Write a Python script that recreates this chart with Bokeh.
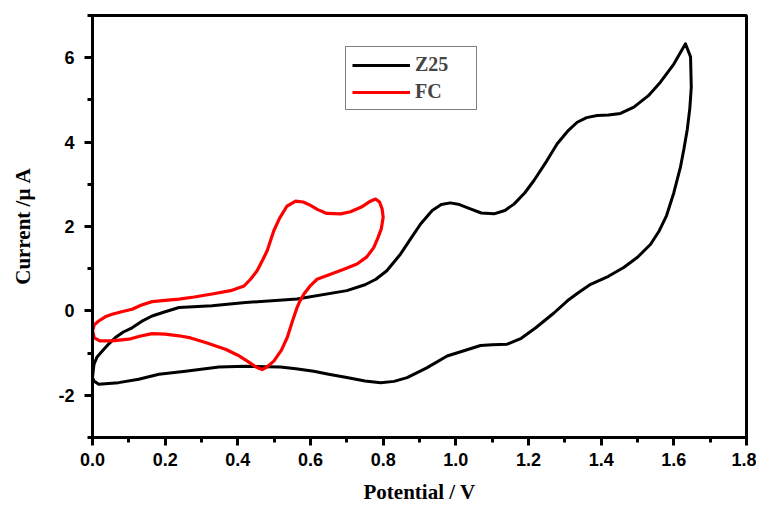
from bokeh.plotting import figure
from bokeh.models import Range1d, SingleIntervalTicker, FixedTicker, Legend, LegendItem, PrintfTickFormatter
from bokeh.embed import file_html
from bokeh.resources import INLINE

# Z25 cyclic voltammogram (potential V, current uA)
z25_x = [0.0, 0.002, 0.004, 0.012, 0.027, 0.045, 0.063, 0.085, 0.109, 0.135, 0.164, 0.20,
         0.238, 0.329, 0.421, 0.563, 0.70, 0.75, 0.78, 0.81, 0.848, 0.875, 0.903, 0.935,
         0.96, 0.985, 1.01, 1.04, 1.07, 1.105, 1.135, 1.16, 1.19, 1.215, 1.25, 1.279,
         1.31, 1.334, 1.36, 1.389, 1.42, 1.453, 1.49, 1.53, 1.563, 1.60, 1.632, 1.646,
         1.648, 1.644, 1.637, 1.628, 1.618, 1.60, 1.58, 1.56, 1.536, 1.50, 1.462, 1.42,
         1.371, 1.335, 1.307, 1.27, 1.22, 1.18, 1.141, 1.10, 1.068, 1.02, 0.976, 0.92,
         0.866, 0.83, 0.793, 0.75, 0.70, 0.65, 0.609, 0.56, 0.517, 0.421, 0.348, 0.256,
         0.183, 0.127, 0.072, 0.017, 0.004, 0.0]
z25_y = [-1.58, -1.42, -1.27, -1.10, -0.95, -0.78, -0.63, -0.50, -0.40, -0.25, -0.12, -0.02,
         0.08, 0.12, 0.20, 0.28, 0.48, 0.62, 0.75, 0.95, 1.35, 1.70, 2.06, 2.38,
         2.52, 2.56, 2.52, 2.42, 2.32, 2.30, 2.38, 2.53, 2.80, 3.09, 3.55, 3.96,
         4.28, 4.47, 4.58, 4.63, 4.64, 4.68, 4.83, 5.10, 5.42, 5.85, 6.33, 6.02,
         5.30, 4.80, 4.30, 3.85, 3.40, 2.80, 2.26, 1.90, 1.58, 1.27, 1.03, 0.82,
         0.63, 0.42, 0.24, -0.05, -0.40, -0.65, -0.79, -0.80, -0.82, -0.95, -1.07, -1.35,
         -1.58, -1.67, -1.70, -1.66, -1.58, -1.50, -1.43, -1.37, -1.33, -1.31, -1.33, -1.43,
         -1.50, -1.62, -1.70, -1.74, -1.66, -1.58]

# FC cyclic voltammogram
fc_x = [0.0, 0.005, 0.017, 0.035, 0.054, 0.08, 0.109, 0.135, 0.164, 0.20, 0.238, 0.28,
        0.329, 0.38, 0.417, 0.435, 0.453, 0.468, 0.481, 0.499, 0.515, 0.535, 0.559, 0.58,
        0.60, 0.62, 0.645, 0.683, 0.71, 0.74, 0.765, 0.779, 0.79, 0.797, 0.80, 0.795,
        0.785, 0.774, 0.755, 0.728, 0.69, 0.655, 0.618, 0.60, 0.582, 0.57, 0.563, 0.55,
        0.536, 0.52, 0.499, 0.48, 0.467, 0.45, 0.426, 0.40, 0.366, 0.311, 0.27, 0.238,
        0.20, 0.164, 0.13, 0.10, 0.054, 0.02, 0.005, 0.0]
fc_y = [-0.47, -0.33, -0.24, -0.14, -0.08, -0.02, 0.04, 0.14, 0.22, 0.25, 0.28, 0.33,
        0.40, 0.48, 0.59, 0.75, 0.95, 1.20, 1.43, 1.90, 2.20, 2.48, 2.60, 2.58,
        2.50, 2.40, 2.31, 2.30, 2.35, 2.46, 2.60, 2.65, 2.58, 2.42, 2.22, 1.95,
        1.72, 1.50, 1.28, 1.11, 0.98, 0.87, 0.75, 0.60, 0.40, 0.22, 0.08, -0.25,
        -0.63, -0.93, -1.19, -1.33, -1.39, -1.33, -1.19, -1.05, -0.91, -0.75, -0.64, -0.59,
        -0.55, -0.54, -0.60, -0.67, -0.71, -0.71, -0.64, -0.47]

y_major = [-2, 0, 2, 4, 6]
y_minor = [-3, -1, 1, 3, 5, 7]

p = figure(width=756, height=506, output_backend="svg", toolbar_location=None,
           x_range=Range1d(0, 1.8), y_range=Range1d(-3, 7),
           min_border_left=92, min_border_right=10, min_border_top=15, min_border_bottom=69)
p.background_fill_color = "white"
p.border_fill_color = "white"
p.xgrid.visible = False
p.ygrid.visible = False
p.outline_line_color = "black"
p.outline_line_width = 3
p.outline_line_alpha = 1

r1 = p.line(z25_x, z25_y, line_color="black", line_width=3, line_join="round")
r2 = p.line(fc_x, fc_y, line_color="#ff0000", line_width=3.2, line_join="round")

p.xaxis.ticker = SingleIntervalTicker(interval=0.2, num_minor_ticks=2)
p.yaxis.ticker = FixedTicker(ticks=y_major, minor_ticks=y_minor)
p.xaxis.formatter = PrintfTickFormatter(format="%.1f")
p.yaxis.formatter = PrintfTickFormatter(format="%d")

for ax in (p.xaxis[0], p.yaxis[0]):
    ax.axis_line_width = 3
    ax.axis_line_color = "black"
    ax.major_tick_line_width = 3
    ax.minor_tick_line_width = 3
    ax.major_tick_out = 8
    ax.major_tick_in = 0
    ax.minor_tick_out = 5
    ax.minor_tick_in = 0
    ax.major_label_text_font = "Liberation Sans"
    ax.major_label_text_font_style = "bold"
    ax.major_label_text_font_size = "18px"
    ax.major_label_text_color = "black"
    ax.axis_label_text_font = "Liberation Serif"
    ax.axis_label_text_font_style = "bold"
    ax.axis_label_text_font_size = "21px"
    ax.axis_label_text_color = "black"

p.xaxis.major_label_standoff = 7
p.yaxis.major_label_standoff = 10
p.xaxis.axis_label = "Potential / V"
p.yaxis.axis_label = "Current /\u03bc A"
p.xaxis.axis_label_standoff = 11
p.yaxis.axis_label_standoff = 20

legend = Legend(items=[LegendItem(label="Z25", renderers=[r1]),
                       LegendItem(label="FC", renderers=[r2])],
                location=(253, 327))
legend.label_text_font = "Liberation Serif"
legend.label_text_font_style = "bold"
legend.label_text_font_size = "20px"
legend.glyph_width = 58
legend.glyph_height = 20
legend.label_height = 20
legend.label_width = 55
legend.spacing = 4
legend.padding = 6
legend.margin = 0
legend.label_standoff = 5
legend.border_line_color = "black"
legend.border_line_width = 1.5
legend.background_fill_alpha = 1
p.add_layout(legend)

open("out.html", "w").write(file_html(p, INLINE))
